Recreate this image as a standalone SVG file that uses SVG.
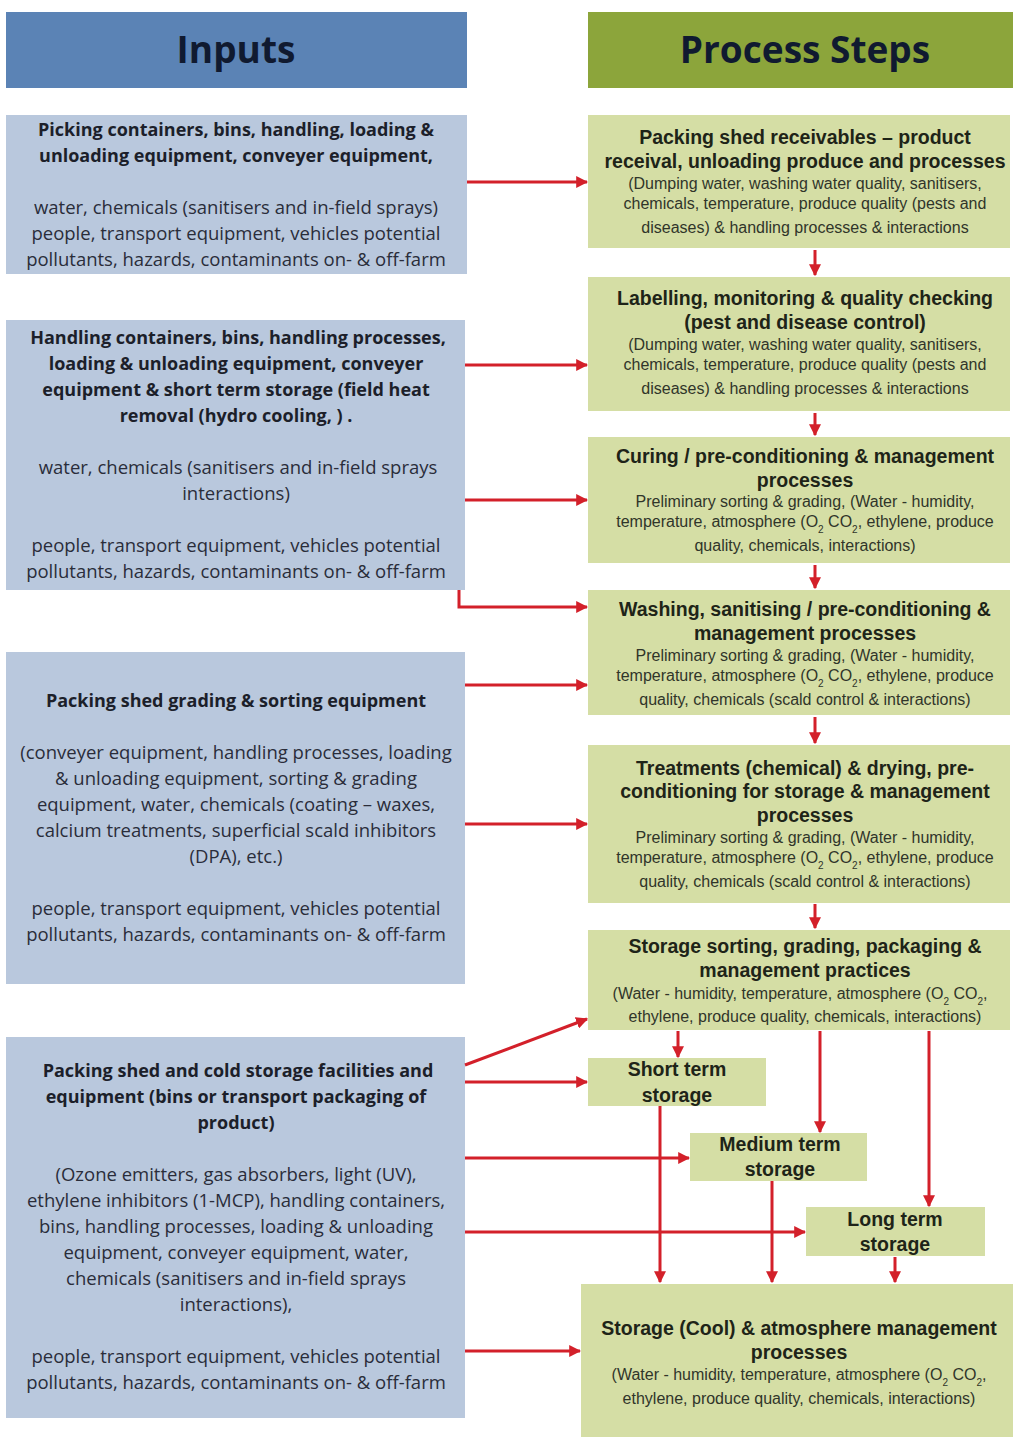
<svg xmlns="http://www.w3.org/2000/svg" width="1013" height="1437" viewBox="0 0 1013 1437">
<defs>
<marker id="ah" viewBox="0 0 10 10" refX="9" refY="5" markerWidth="4" markerHeight="4" orient="auto" markerUnits="strokeWidth">
<path d="M0,0 L10,5 L0,10 z" fill="#d3202a"/>
</marker>
<style>
.hdrI{fill:#5b83b5}
.hdrP{fill:#8ca53b}
.in{fill:#b9c8dd}
.ps{fill:#d5dea5}
.ht{font-family:"Open Sans",Lato,sans-serif;font-weight:bold;font-size:37px;fill:#101a30;text-anchor:middle}
.lb{font-family:"Open Sans",Lato,sans-serif;font-weight:bold;font-size:18px;fill:#1c1f2a;text-anchor:middle}
.ln{font-family:"Open Sans",Lato,sans-serif;font-size:18.5px;fill:#2a2d3a;text-anchor:middle}
.rb{font-family:"Liberation Sans",Arial,sans-serif;font-weight:bold;font-size:19.5px;fill:#1e2418;text-anchor:middle}
.rn{font-family:"Liberation Sans",Arial,sans-serif;font-size:16px;fill:#30352a;text-anchor:middle}
.sub{font-size:10px}
.c{fill:none;stroke:#d3202a;stroke-width:3}
</style>
</defs>
<rect width="1013" height="1437" fill="#ffffff"/>

<g id="hdr-inputs"><rect class="hdrI" x="6" y="12" width="461" height="76"/><text class="ht" x="236" y="63">Inputs</text></g>
<g id="hdr-process"><rect class="hdrP" x="588" y="12" width="425" height="76"/><text class="ht" x="805" y="63">Process Steps</text></g>

<g id="in1"><rect class="in" x="6" y="115" width="461" height="159"/>
<text class="lb" x="236" y="136">Picking containers, bins, handling, loading &amp;</text>
<text class="lb" x="236" y="162">unloading equipment, conveyer equipment,</text>
<text class="ln" x="236" y="214">water, chemicals (sanitisers and in-field sprays)</text>
<text class="ln" x="236" y="240">people, transport equipment, vehicles potential</text>
<text class="ln" x="236" y="266">pollutants, hazards, contaminants on- &amp; off-farm</text>
</g>

<g id="in2"><rect class="in" x="6" y="320" width="459" height="270"/>
<text class="lb" x="238" y="344">Handling containers, bins, handling processes,</text>
<text class="lb" x="236" y="370">loading &amp; unloading equipment, conveyer</text>
<text class="lb" x="236" y="396">equipment &amp; short term storage (field heat</text>
<text class="lb" x="236" y="422">removal (hydro cooling, ) .</text>
<text class="ln" x="238" y="474">water, chemicals (sanitisers and in-field sprays</text>
<text class="ln" x="236" y="500">interactions)</text>
<text class="ln" x="236" y="552">people, transport equipment, vehicles potential</text>
<text class="ln" x="236" y="578">pollutants, hazards, contaminants on- &amp; off-farm</text>
</g>

<g id="in3"><rect class="in" x="6" y="652" width="459" height="332"/>
<text class="lb" x="236" y="707">Packing shed grading &amp; sorting equipment</text>
<text class="ln" x="236" y="759">(conveyer equipment, handling processes, loading</text>
<text class="ln" x="236" y="785">&amp; unloading equipment, sorting &amp; grading</text>
<text class="ln" x="236" y="811">equipment, water, chemicals (coating – waxes,</text>
<text class="ln" x="236" y="837">calcium treatments, superficial scald inhibitors</text>
<text class="ln" x="236" y="863">(DPA), etc.)</text>
<text class="ln" x="236" y="915">people, transport equipment, vehicles potential</text>
<text class="ln" x="236" y="941">pollutants, hazards, contaminants on- &amp; off-farm</text>
</g>

<g id="in4"><rect class="in" x="6" y="1037" width="459" height="381"/>
<text class="lb" x="238" y="1077">Packing shed and cold storage facilities and</text>
<text class="lb" x="236" y="1103">equipment (bins or transport packaging of</text>
<text class="lb" x="236" y="1129">product)</text>
<text class="ln" x="236" y="1181">(Ozone emitters, gas absorbers, light (UV),</text>
<text class="ln" x="236" y="1207">ethylene inhibitors (1-MCP), handling containers,</text>
<text class="ln" x="236" y="1233">bins, handling processes, loading &amp; unloading</text>
<text class="ln" x="236" y="1259">equipment, conveyer equipment, water,</text>
<text class="ln" x="236" y="1285">chemicals (sanitisers and in-field sprays</text>
<text class="ln" x="236" y="1311">interactions),</text>
<text class="ln" x="236" y="1363">people, transport equipment, vehicles potential</text>
<text class="ln" x="236" y="1389">pollutants, hazards, contaminants on- &amp; off-farm</text>
</g>

<g id="ps1"><rect class="ps" x="588" y="115" width="422" height="133"/>
<text class="rb" x="805" y="144">Packing shed receivables – product</text>
<text class="rb" x="805" y="168">receival, unloading produce and processes</text>
<text class="rn" x="805" y="189">(Dumping water, washing water quality, sanitisers,</text>
<text class="rn" x="805" y="209">chemicals, temperature, produce quality (pests and</text>
<text class="rn" x="805" y="233">diseases) &amp; handling processes &amp; interactions</text>
</g>

<g id="ps2"><rect class="ps" x="588" y="277" width="422" height="134"/>
<text class="rb" x="805" y="305">Labelling, monitoring &amp; quality checking</text>
<text class="rb" x="805" y="329">(pest and disease control)</text>
<text class="rn" x="805" y="350">(Dumping water, washing water quality, sanitisers,</text>
<text class="rn" x="805" y="370">chemicals, temperature, produce quality (pests and</text>
<text class="rn" x="805" y="394">diseases) &amp; handling processes &amp; interactions</text>
</g>

<g id="ps3"><rect class="ps" x="588" y="437" width="422" height="126"/>
<text class="rb" x="805" y="463">Curing / pre-conditioning &amp; management</text>
<text class="rb" x="805" y="487">processes</text>
<text class="rn" x="805" y="507">Preliminary sorting &amp; grading,  (Water - humidity,</text>
<text class="rn" x="805" y="527">temperature, atmosphere (O<tspan class="sub" baseline-shift="sub">2</tspan> CO<tspan class="sub" baseline-shift="sub">2</tspan>, ethylene,  produce</text>
<text class="rn" x="805" y="551">quality, chemicals, interactions)</text>
</g>

<g id="ps4"><rect class="ps" x="588" y="590" width="422" height="125"/>
<text class="rb" x="805" y="616">Washing, sanitising / pre-conditioning &amp;</text>
<text class="rb" x="805" y="640">management processes</text>
<text class="rn" x="805" y="661">Preliminary sorting &amp; grading,  (Water - humidity,</text>
<text class="rn" x="805" y="681">temperature, atmosphere (O<tspan class="sub" baseline-shift="sub">2</tspan> CO<tspan class="sub" baseline-shift="sub">2</tspan>, ethylene,  produce</text>
<text class="rn" x="805" y="705">quality, chemicals (scald control &amp; interactions)</text>
</g>

<g id="ps5"><rect class="ps" x="588" y="745" width="422" height="158"/>
<text class="rb" x="805" y="775">Treatments (chemical) &amp; drying, pre-</text>
<text class="rb" x="805" y="798">conditioning for storage &amp; management</text>
<text class="rb" x="805" y="822">processes</text>
<text class="rn" x="805" y="843">Preliminary sorting &amp; grading,  (Water - humidity,</text>
<text class="rn" x="805" y="863">temperature, atmosphere (O<tspan class="sub" baseline-shift="sub">2</tspan> CO<tspan class="sub" baseline-shift="sub">2</tspan>, ethylene,  produce</text>
<text class="rn" x="805" y="887">quality, chemicals (scald control &amp; interactions)</text>
</g>

<g id="ps6"><rect class="ps" x="588" y="930" width="422" height="100"/>
<text class="rb" x="805" y="953">Storage sorting, grading, packaging &amp;</text>
<text class="rb" x="805" y="977">management practices</text>
<text class="rn" x="800" y="999">(Water - humidity, temperature, atmosphere (O<tspan class="sub" baseline-shift="sub">2</tspan> CO<tspan class="sub" baseline-shift="sub">2</tspan>,</text>
<text class="rn" x="805" y="1022">ethylene,  produce quality, chemicals, interactions)</text>
</g>

<g id="short"><rect class="ps" x="588" y="1058" width="178" height="48"/>
<text class="rb" x="677" y="1076">Short term</text>
<text class="rb" x="677" y="1102">storage</text>
</g>

<g id="medium"><rect class="ps" x="690" y="1133" width="177" height="48"/>
<text class="rb" x="780" y="1151">Medium term</text>
<text class="rb" x="780" y="1176">storage</text>
</g>

<g id="long"><rect class="ps" x="806" y="1207" width="179" height="49"/>
<text class="rb" x="895" y="1226">Long term</text>
<text class="rb" x="895" y="1251">storage</text>
</g>

<g id="cool"><rect class="ps" x="581" y="1284" width="432" height="153"/>
<text class="rb" x="799" y="1335">Storage (Cool) &amp; atmosphere management</text>
<text class="rb" x="799" y="1359">processes</text>
<text class="rn" x="799" y="1380">(Water - humidity, temperature, atmosphere (O<tspan class="sub" baseline-shift="sub">2</tspan> CO<tspan class="sub" baseline-shift="sub">2</tspan>,</text>
<text class="rn" x="799" y="1404">ethylene,  produce quality, chemicals, interactions)</text>
</g>

<g id="connectors">
<path class="c" marker-end="url(#ah)" d="M467,182 H587"/>
<path class="c" marker-end="url(#ah)" d="M815,250 V275"/>
<path class="c" marker-end="url(#ah)" d="M465,365 H587"/>
<path class="c" marker-end="url(#ah)" d="M815,413 V435"/>
<path class="c" marker-end="url(#ah)" d="M465,500 H587"/>
<path class="c" marker-end="url(#ah)" d="M815,565 V588"/>
<path class="c" marker-end="url(#ah)" d="M459,590 V607 H587"/>
<path class="c" marker-end="url(#ah)" d="M465,685 H587"/>
<path class="c" marker-end="url(#ah)" d="M815,717 V743"/>
<path class="c" marker-end="url(#ah)" d="M465,824 H587"/>
<path class="c" marker-end="url(#ah)" d="M815,904 V928"/>
<path class="c" marker-end="url(#ah)" d="M465,1065 L587,1019"/>
<path class="c" marker-end="url(#ah)" d="M465,1082 H587"/>
<path class="c" marker-end="url(#ah)" d="M678,1031 V1057"/>
<path class="c" marker-end="url(#ah)" d="M820,1031 V1132"/>
<path class="c" marker-end="url(#ah)" d="M929,1031 V1206"/>
<path class="c" marker-end="url(#ah)" d="M465,1158 H689"/>
<path class="c" marker-end="url(#ah)" d="M465,1232 H805"/>
<path class="c" marker-end="url(#ah)" d="M660,1106 V1282"/>
<path class="c" marker-end="url(#ah)" d="M772,1181 V1282"/>
<path class="c" marker-end="url(#ah)" d="M895,1257 V1282"/>
<path class="c" marker-end="url(#ah)" d="M465,1351 H580"/>
</g>
</svg>
